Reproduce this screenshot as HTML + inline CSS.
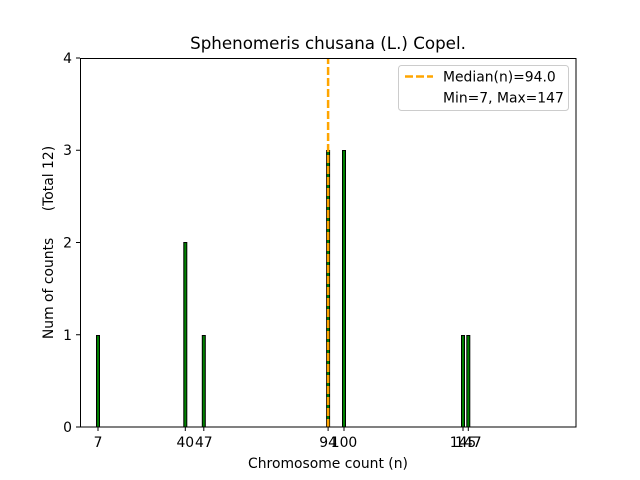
<!DOCTYPE html>
<html><head><style>body{margin:0;background:#fff}svg{display:block}text{font-family:"DejaVu Sans","Liberation Sans",sans-serif;fill:#000}</style></head><body>
<svg width="640" height="480" xmlns="http://www.w3.org/2000/svg">
<rect width="640" height="480" fill="#fff"/>
<g fill="green" stroke="#000" stroke-width="1">
<rect x="96.5" y="335.5" width="3" height="91.5"/>
<rect x="183.8" y="242.5" width="3" height="184.5"/>
<rect x="202.3" y="335.5" width="3" height="91.5"/>
<rect x="326.6" y="150.5" width="3" height="276.5"/>
<rect x="342.5" y="150.5" width="3" height="276.5"/>
<rect x="461.5" y="335.5" width="3" height="91.5"/>
<rect x="466.8" y="335.5" width="3" height="91.5"/>
</g>
<line x1="328.1" y1="427" x2="328.1" y2="58" stroke="orange" stroke-width="2.5" stroke-dasharray="8,3"/>
<rect x="80.5" y="58.5" width="495.5" height="368.5" fill="none" stroke="#000" stroke-width="1"/>
<g stroke="#000" stroke-width="1">
<line x1="98" y1="427" x2="98" y2="431"/><line x1="185.3" y1="427" x2="185.3" y2="431"/><line x1="203.8" y1="427" x2="203.8" y2="431"/><line x1="328.1" y1="427" x2="328.1" y2="431"/><line x1="344" y1="427" x2="344" y2="431"/><line x1="463" y1="427" x2="463" y2="431"/><line x1="468.3" y1="427" x2="468.3" y2="431"/>
<line x1="76" y1="427" x2="80" y2="427"/><line x1="76" y1="334.75" x2="80" y2="334.75"/><line x1="76" y1="242.5" x2="80" y2="242.5"/><line x1="76" y1="150.25" x2="80" y2="150.25"/><line x1="76" y1="58" x2="80" y2="58"/>
</g>
<g font-size="13.9" text-anchor="middle">
<text x="98" y="447">7</text><text x="185.3" y="447">40</text><text x="203.8" y="447">47</text><text x="328.1" y="447">94</text><text x="344" y="447">100</text><text x="463" y="447">145</text><text x="468.3" y="447">147</text>
</g>
<g font-size="13.9" text-anchor="end">
<text x="72" y="432">0</text><text x="72" y="340">1</text><text x="72" y="247.5">2</text><text x="72" y="155">3</text><text x="72" y="63">4</text>
</g>
<text x="328" y="468" font-size="13.9" text-anchor="middle">Chromosome count (n)</text>
<text transform="translate(53,242.5) rotate(-90)" font-size="13.9" text-anchor="middle" xml:space="preserve">Num of counts      (Total 12)</text>
<text x="328" y="49" font-size="16.7" text-anchor="middle">Sphenomeris chusana (L.) Copel.</text>
<rect x="398.5" y="65.5" width="170" height="45" rx="3" fill="#fff" stroke="#ccc"/>
<line x1="405" y1="76.5" x2="433" y2="76.5" stroke="orange" stroke-width="2.5" stroke-dasharray="8,3"/>
<text x="443" y="81.5" font-size="13.9">Median(n)=94.0</text>
<text x="443" y="102.5" font-size="13.9">Min=7, Max=147</text>
</svg>
</body></html>
